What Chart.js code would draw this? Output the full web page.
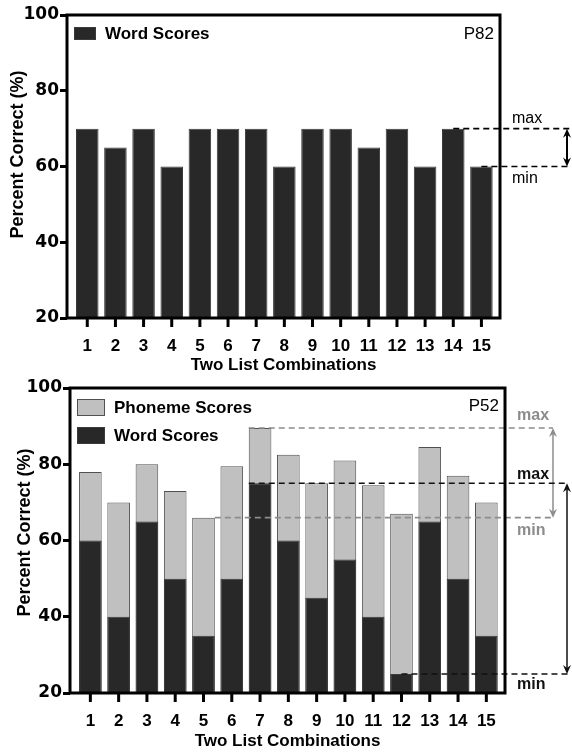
<!DOCTYPE html>
<html>
<head>
<meta charset="utf-8">
<script src="https://cdn.jsdelivr.net/npm/chart.js@4.4.1/dist/chart.umd.min.js"></script>
<style>
  html, body { margin: 0; padding: 0; background: #fff; }
  canvas { display: block; }
</style>
</head>
<body>
<canvas id="chartP82" width="572" height="376"></canvas>
<canvas id="chartP52" width="572" height="376"></canvas>
<script>
// data
const combinations = [1, 2, 3, 4, 5, 6, 7, 8, 9, 10, 11, 12, 13, 14, 15];
const p82WordScores = [70, 65, 70, 60, 70, 70, 70, 60, 70, 70, 65, 70, 60, 70, 60];
const p52WordScores = [60, 40, 65, 50, 35, 50, 75, 60, 45, 55, 40, 25, 65, 50, 35];
const p52PhonemeScores = [78, 70, 80, 73, 66, 79.5, 89.5, 82.5, 75, 81, 74.5, 67, 84.5, 77, 70];
const yTicks = [20, 40, 60, 80, 100];

const DARK = "#282828";
const LIGHT = "#c0c0c0";
const GREY_TEXT = "#8c8c8c";
const FONT = "'Liberation Sans', Arial, sans-serif";
const WIDE_FONT = "'DejaVu Sans', sans-serif";

Chart.defaults.font.family = FONT;
Chart.defaults.color = "#000";

const toPoints = (vals) => combinations.map((c, i) => ({ x: c, y: vals[i] }));

// frame, legend, panel label, y title and the max/min range markers
const decorations = {
  id: "decorations",
  afterDatasetsDraw(chart, args, opts) {
    const { ctx, chartArea: a, scales: { x, y } } = chart;
    const half = chart.getDatasetMeta(0).data[0].width / 2;
    ctx.save();

    // range markers
    opts.ranges.forEach(r => {
      const hi = Math.max(...r.values), lo = Math.min(...r.values);
      const hiIdx = r.values.lastIndexOf(hi), loIdx = r.values.lastIndexOf(lo);
      const yHi = y.getPixelForValue(hi), yLo = y.getPixelForValue(lo);
      const xHi = x.getPixelForValue(combinations[hiIdx]) + r.hiSide * half;
      const xLo = x.getPixelForValue(combinations[loIdx]) + r.loSide * half;
      const xEnd = a.right + r.lineEnd;
      const xArrow = a.right + r.arrowAt;
      ctx.strokeStyle = r.color;
      ctx.fillStyle = r.color;
      ctx.lineWidth = 1.6;
      ctx.setLineDash([6, 4]);
      ctx.beginPath();
      ctx.moveTo(xHi, yHi); ctx.lineTo(xEnd, yHi);
      ctx.moveTo(xLo, yLo); ctx.lineTo(xEnd, yLo);
      ctx.stroke();
      ctx.setLineDash([]);
      ctx.lineWidth = r.arrowWidth;
      ctx.beginPath();
      ctx.moveTo(xArrow, yHi + 4); ctx.lineTo(xArrow, yLo - 4);
      ctx.stroke();
      [[yHi, 1], [yLo, -1]].forEach(([yy, dir]) => {
        ctx.beginPath();
        ctx.moveTo(xArrow, yy);
        ctx.lineTo(xArrow - 4, yy + dir * 9);
        ctx.lineTo(xArrow, yy + dir * 6);
        ctx.lineTo(xArrow + 4, yy + dir * 9);
        ctx.closePath();
        ctx.fill();
      });
      ctx.font = (r.bold ? "bold " : "") + "16px " + FONT;
      ctx.textAlign = "left";
      ctx.textBaseline = "middle";
      ctx.fillText("max", a.right + 12, yHi + r.maxDy);
      ctx.fillText("min", a.right + 12, yLo + r.minDy);
    });

    // frame
    ctx.strokeStyle = "#000";
    ctx.lineWidth = 3;
    ctx.strokeRect(a.left, a.top, a.right - a.left, a.bottom - a.top);

    // legend
    opts.legend.forEach((item, i) => {
      const bx = a.left + 7, by = a.top + opts.legendTop + i * opts.legendStep;
      ctx.fillStyle = item.fill;
      ctx.fillRect(bx, by, opts.box[0], opts.box[1]);
      ctx.strokeStyle = item.edge;
      ctx.lineWidth = 1;
      ctx.strokeRect(bx + 0.5, by + 0.5, opts.box[0] - 1, opts.box[1] - 1);
      ctx.fillStyle = "#000";
      ctx.font = "bold 17px " + FONT;
      ctx.textAlign = "left";
      ctx.textBaseline = "middle";
      ctx.fillText(item.text, bx + opts.box[0] + 9, by + opts.box[1] / 2 + 1);
    });

    ctx.font = "17px " + FONT;
    ctx.textAlign = "right";
    ctx.textBaseline = "middle";
    ctx.fillStyle = "#000";
    ctx.fillText(opts.panel, a.right - 6, a.top + opts.legendTop + 7);

    // y axis title
    ctx.translate(opts.yTitleX, (a.top + a.bottom) / 2 - opts.yTitleShift);
    ctx.rotate(-Math.PI / 2);
    ctx.font = "bold 18px " + FONT;
    ctx.textAlign = "center";
    ctx.textBaseline = "middle";
    ctx.fillText("Percent Correct (%)", 0, 0);
    ctx.restore();
  },
  afterDraw(chart) {
    // x tick marks under each combination
    const { ctx, chartArea: a, scales: { x } } = chart;
    ctx.save();
    ctx.fillStyle = "#000";
    combinations.forEach(c => {
      const px = x.getPixelForValue(c);
      ctx.fillRect(px - 1.5, a.bottom, 3, 9);
    });
    ctx.restore();
  }
};

function makeOptions(layout, decor) {
  return {
    responsive: false,
    animation: false,
    devicePixelRatio: 1,
    layout: { padding: { left: 0, right: layout.right, top: layout.top, bottom: 0 } },
    plugins: { legend: { display: false }, tooltip: { enabled: false }, decorations: decor },
    scales: {
      x: {
        type: "linear",
        offset: false,
        min: 0.28,
        max: 15.66,
        afterFit: (s) => { s.height = layout.xHeight; },
        afterBuildTicks: (s) => { s.ticks = combinations.map(v => ({ value: v })); },
        border: { display: false },
        grid: { display: false },
        ticks: { padding: 10, font: { size: 17, weight: "bold" }, color: "#000", maxRotation: 0, autoSkip: false },
        title: { display: true, text: "Two List Combinations", font: { size: 17, weight: "bold" }, padding: { top: 3, bottom: 0 }, color: "#000" }
      },
      y: {
        min: 20,
        max: 100,
        afterFit: (s) => { s.width = layout.yWidth; },
        afterBuildTicks: (s) => { s.ticks = yTicks.map(v => ({ value: v })); },
        border: { display: false },
        grid: { drawOnChartArea: false, drawTicks: true, tickLength: 7, tickWidth: 3, color: "#000" },
        ticks: { padding: 1, font: { family: WIDE_FONT, size: 17, weight: "bold" }, color: "#000" },
        title: { display: false }
      }
    }
  };
}

new Chart(document.getElementById("chartP82"), {
  type: "bar",
  data: {
    datasets: [{
      label: "Word Scores",
      data: toPoints(p82WordScores),
      backgroundColor: DARK,
      borderColor: "#3a3a3a",
      borderWidth: 1,
      barPercentage: 0.8,
      categoryPercentage: 1
    }]
  },
  options: makeOptions(
    { right: 72, top: 15, xHeight: 58, yWidth: 67 },
    {
      panel: "P82",
      yTitleX: 18, yTitleShift: 12,
      legendTop: 12, legendStep: 0, box: [22, 13],
      legend: [{ text: "Word Scores", fill: DARK, edge: "#3a3a3a" }],
      ranges: [{ values: p82WordScores, color: "#000", hiSide: 0, loSide: 0, lineEnd: 70, arrowAt: 67, arrowWidth: 2, maxDy: -10, minDy: 12, bold: false }]
    }
  ),
  plugins: [decorations]
});

new Chart(document.getElementById("chartP52"), {
  type: "bar",
  data: {
    datasets: [{
      label: "Word Scores",
      data: toPoints(p52WordScores),
      backgroundColor: DARK,
      borderColor: "#3a3a3a",
      borderWidth: 1,
      grouped: false,
      barPercentage: 0.8,
      categoryPercentage: 1
    }, {
      label: "Phoneme Scores",
      data: toPoints(p52PhonemeScores),
      backgroundColor: LIGHT,
      borderColor: "#505050",
      borderWidth: 1,
      grouped: false,
      barPercentage: 0.8,
      categoryPercentage: 1
    }]
  },
  options: makeOptions(
    { right: 67, top: 12, xHeight: 59, yWidth: 70 },
    {
      panel: "P52",
      yTitleX: 25, yTitleShift: 8,
      legendTop: 11, legendStep: 28, box: [28, 17],
      legend: [
        { text: "Phoneme Scores", fill: LIGHT, edge: "#505050" },
        { text: "Word Scores", fill: DARK, edge: "#3a3a3a" }
      ],
      ranges: [
        { values: p52PhonemeScores, color: GREY_TEXT, hiSide: -1, loSide: 1, lineEnd: 48, arrowAt: 48, arrowWidth: 1.5, maxDy: -12, minDy: 13, bold: true },
        { values: p52WordScores, color: "#111", hiSide: -1, loSide: 0, lineEnd: 63, arrowAt: 62, arrowWidth: 1.5, maxDy: -9, minDy: 11, bold: true }
      ]
    }
  ),
  plugins: [decorations]
});
</script>
</body>
</html>
